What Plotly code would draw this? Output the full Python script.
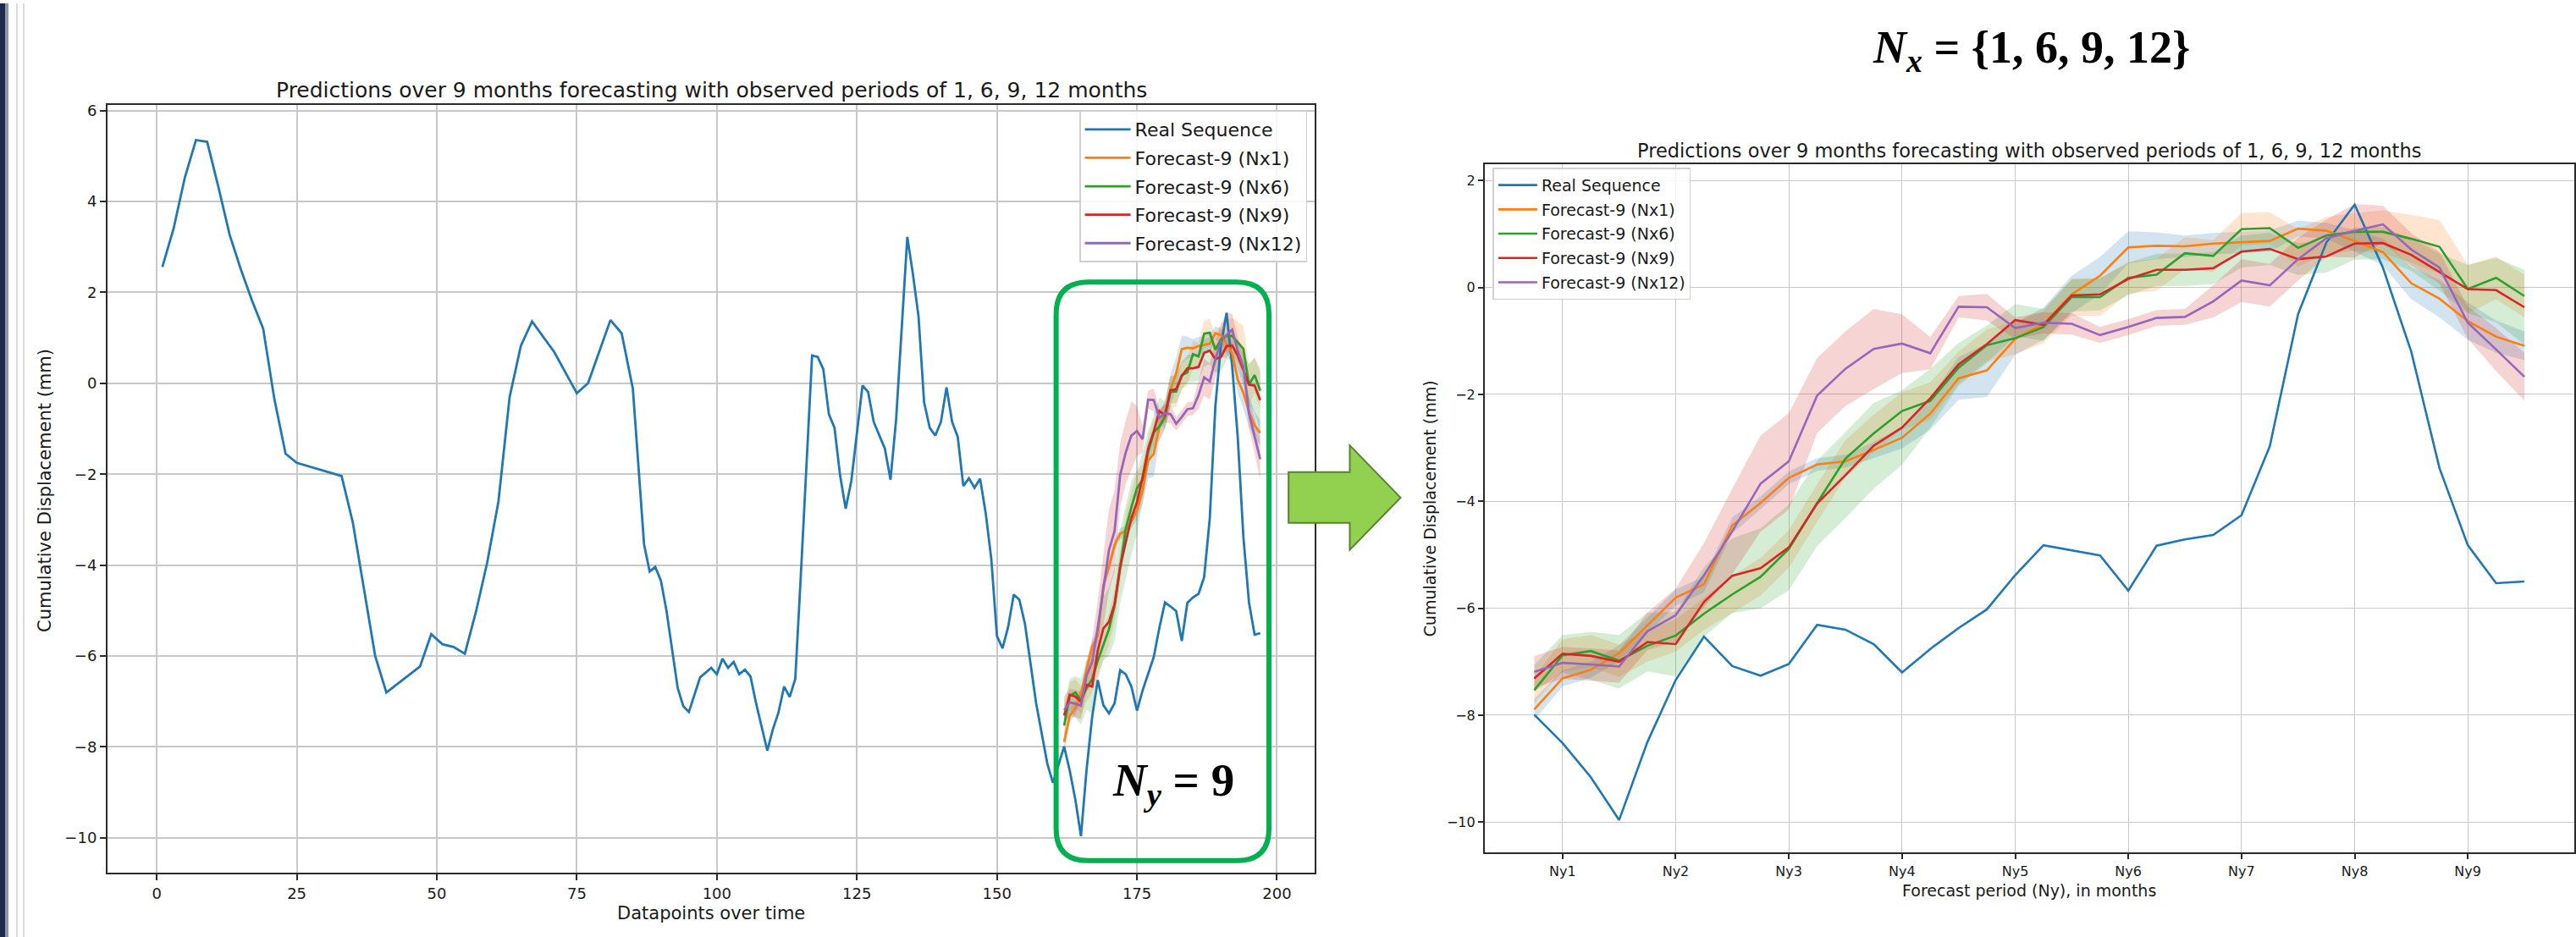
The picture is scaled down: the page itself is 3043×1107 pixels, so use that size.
import plotly.graph_objects as go

W, H = 3043, 1107

# ---------------- data ----------------
# Left chart: real sequence, datapoints 1..160 (vertices)
early_x = [1, 3, 5, 7, 9, 11, 13, 15, 17, 19, 21, 23, 25, 33, 35, 39, 41, 43, 47, 49,
           51, 53, 55, 57, 59, 61, 63, 65, 67, 71, 75, 77, 81, 83, 85, 87, 88, 89, 90, 91,
           93, 94, 95, 97, 99, 100, 101, 102, 103, 104, 105, 106, 107, 109, 110, 111, 112, 113, 114, 115,
           116, 117, 118, 119, 120, 121, 122, 123, 124, 126, 127, 128, 130, 131, 132, 134, 135, 136, 137, 138,
           139, 140, 141, 142, 143, 144, 145, 146, 147, 148, 149, 150, 151, 152, 153, 154, 155, 157, 159, 160]
early_y = [2.56, 3.40, 4.52, 5.35, 5.31, 4.32, 3.27, 2.51, 1.82, 1.20,
           -0.35, -1.55, -1.75, -2.04, -3.06, -6.00, -6.80, -6.61, -6.23, -5.52,
           -5.74, -5.80, -5.95, -5.02, -3.94, -2.60, -0.30, 0.82, 1.36, 0.68,
           -0.22, 0.00, 1.39, 1.10, -0.12, -3.54, -4.14, -4.04, -4.34, -5.00,
           -6.70, -7.10, -7.23, -6.47, -6.26, -6.40, -6.06, -6.26, -6.13, -6.40,
           -6.30, -6.45, -7.04, -8.08, -7.61, -7.24, -6.67, -6.90, -6.50, -4.20,
           -1.80, 0.61, 0.58, 0.31, -0.68, -0.98, -2.03, -2.76, -2.15, -0.05,
           -0.19, -0.85, -1.44, -2.12, -0.80, 3.22, 2.40, 1.47, -0.42, -0.98,
           -1.15, -0.85, -0.09, -0.85, -1.18, -2.26, -2.09, -2.30, -2.10, -2.86,
           -3.87, -5.56, -5.83, -5.36, -4.65, -4.76, -5.29, -7.04, -8.37, -8.79]

# Forecast window: 36 steps (datapoints 162..197 on the left chart)
forecast_start = 162
real_tail = [-7.99, -8.52, -9.16, -9.96, -8.50, -7.34, -6.53, -7.08, -7.26, -7.04,
             -6.31, -6.40, -6.67, -7.20, -6.76, -6.37, -6.02, -5.38, -4.82, -4.91,
             -5.01, -5.67, -4.83, -4.71, -4.63, -4.26, -2.97, -0.50, 0.84, 1.55,
             0.37, -1.20, -3.38, -4.82, -5.53, -5.50]
fc_nx1 = [-7.89, -7.31, -7.15, -6.84, -6.32, -5.80, -5.55, -4.45, -4.03, -3.56,
          -3.31, -3.25, -3.04, -2.81, -2.36, -1.70, -1.55, -0.96, -0.68, -0.13,
          0.22, 0.75, 0.78, 0.77, 0.82, 0.84, 0.87, 1.10, 1.06, 0.87,
          0.66, 0.08, -0.21, -0.63, -0.92, -1.09]
fc_nx6 = [-7.53, -6.88, -6.80, -6.98, -6.70, -6.51, -6.10, -5.74, -5.41, -4.89,
          -4.03, -3.20, -2.73, -2.31, -2.12, -1.50, -1.08, -0.95, -0.74, -0.18,
          -0.18, 0.18, 0.24, 0.64, 0.59, 1.09, 1.11, 0.74, 0.97, 1.04,
          1.04, 0.91, 0.76, -0.03, 0.18, -0.16]
fc_nx9 = [-7.31, -6.85, -6.89, -7.00, -6.63, -6.67, -5.88, -5.39, -5.25, -4.86,
          -4.04, -3.51, -2.96, -2.62, -2.07, -1.44, -1.06, -0.61, -0.70, -0.15,
          -0.13, 0.16, 0.33, 0.33, 0.36, 0.67, 0.72, 0.53, 0.58, 0.82,
          0.83, 0.61, 0.29, -0.03, -0.05, -0.37]
fc_nx12 = [-7.19, -7.02, -7.05, -7.09, -6.43, -6.13, -5.38, -4.56, -3.67, -3.25,
           -2.02, -1.52, -1.15, -1.05, -1.23, -0.36, -0.37, -0.76, -0.66, -0.68,
           -0.89, -0.74, -0.57, -0.55, -0.26, 0.13, 0.04, 0.53, 0.92, 1.06,
           1.18, 0.71, 0.37, -0.66, -1.16, -1.67]
# half-widths of the shaded uncertainty bands
hw_nx1 = [0.20, 0.15, 0.15, 0.15, 0.15, 0.15, 0.15, 0.15, 0.12, 0.12,
          0.12, 0.12, 0.15, 0.20, 0.30, 0.40, 0.50, 0.30, 0.30, 0.35,
          0.35, 0.30, 0.25, 0.20, 0.20, 0.20, 0.20, 0.15, 0.15, 0.20,
          0.25, 0.30, 0.35, 0.35, 0.30, 0.27]
hw_nx6 = [0.25, 0.30, 0.30, 0.30, 0.30, 0.30, 0.30, 0.35, 0.35, 0.35,
          0.35, 0.35, 0.35, 0.35, 0.35, 0.30, 0.30, 0.30, 0.30, 0.35,
          0.35, 0.30, 0.30, 0.30, 0.30, 0.30, 0.30, 0.35, 0.35, 0.35,
          0.40, 0.45, 0.50, 0.45, 0.40, 0.40]
hw_nx9 = [0.25, 0.35, 0.45, 0.50, 0.55, 0.60, 0.65, 0.70, 0.75, 0.80,
          0.80, 0.80, 0.80, 0.70, 0.55, 0.40, 0.35, 0.30, 0.30, 0.30,
          0.30, 0.30, 0.30, 0.30, 0.30, 0.30, 0.30, 0.30, 0.30, 0.30,
          0.30, 0.30, 0.35, 0.45, 0.60, 0.70]
hw_nx12 = [0.30, 0.30, 0.30, 0.30, 0.35, 0.50, 0.60, 0.80, 0.90, 0.90,
           0.70, 0.70, 0.75, 0.55, 0.30, 0.20, 0.25, 0.20, 0.20, 0.20,
           0.15, 0.15, 0.15, 0.15, 0.30, 0.40, 0.40, 0.40, 0.35, 0.50,
           0.35, 0.30, 0.30, 0.30, 0.40, 0.45]

series_names = ["Forecast-9 (Nx1)", "Forecast-9 (Nx6)", "Forecast-9 (Nx9)", "Forecast-9 (Nx12)"]
ny_ticks = [1, 5, 9, 13, 17, 21, 25, 29, 33]
ny_labels = ["Ny1", "Ny2", "Ny3", "Ny4", "Ny5", "Ny6", "Ny7", "Ny8", "Ny9"]
left_xticks = [0, 25, 50, 75, 100, 125, 150, 175, 200]
left_yticks = [-10, -8, -6, -4, -2, 0, 2, 4, 6]
right_yticks = [-10, -8, -6, -4, -2, 0, 2]

TITLE = "Predictions over 9 months forecasting with observed periods of 1, 6, 9, 12 months"

# ---------------- styling ----------------
C_BLUE, C_ORANGE, C_GREEN, C_RED, C_PURPLE = "#1f77b4", "#ff7f0e", "#2ca02c", "#d62728", "#9467bd"
line_colors = [C_ORANGE, C_GREEN, C_RED, C_PURPLE]
band_colors = ["rgba(31,119,180,0.2)", "rgba(255,127,14,0.2)", "rgba(44,160,44,0.2)", "rgba(214,39,40,0.2)"]
FONT = "DejaVu Sans"
TXT = "#1a1a1a"

forecasts = [fc_nx1, fc_nx6, fc_nx9, fc_nx12]
halfw = [hw_nx1, hw_nx6, hw_nx9, hw_nx12]

fig = go.Figure()


def add_chart(xs_f, xs_real, ys_real, xa, ya, legend, lw, tag):
    # bands first (under lines)
    for k in range(4):
        up = [c + h for c, h in zip(forecasts[k], halfw[k])]
        lo = [c - h for c, h in zip(forecasts[k], halfw[k])]
        fig.add_trace(go.Scatter(x=list(xs_f) + list(xs_f)[::-1], y=up + lo[::-1],
                                 fill="toself", fillcolor=band_colors[k], line=dict(width=0),
                                 mode="lines", hoverinfo="skip", showlegend=False,
                                 xaxis=xa, yaxis=ya))
    fig.add_trace(go.Scatter(x=xs_real, y=ys_real, mode="lines", name="Real Sequence",
                             line=dict(color=C_BLUE, width=lw), xaxis=xa, yaxis=ya,
                             legend=legend, legendgroup=tag + "0"))
    for k in range(4):
        fig.add_trace(go.Scatter(x=list(xs_f), y=forecasts[k], mode="lines", name=series_names[k],
                                 line=dict(color=line_colors[k], width=lw), xaxis=xa, yaxis=ya,
                                 legend=legend, legendgroup=tag + str(k + 1)))


n = len(real_tail)
left_fx = [forecast_start + i for i in range(n)]
add_chart(left_fx, early_x + left_fx, early_y + real_tail, "x", "y", "legend", 2.8, "L")
right_fx = list(range(n))
add_chart(right_fx, right_fx, real_tail, "x2", "y2", "legend2", 2.6, "R")


def px_x(v):
    return v / W


def px_y(v):
    return 1 - v / H


axis_common = dict(showgrid=True, gridcolor="#c8c8c8", zeroline=False, showline=True, mirror=True,
                   linecolor="#2b2b2b", ticks="outside", tickcolor="#2b2b2b", tickwidth=1.5)

fig.update_layout(
    width=W, height=H, margin=dict(l=0, r=0, t=0, b=0),
    paper_bgcolor="white", plot_bgcolor="white",
    font=dict(family=FONT, color=TXT),
    xaxis=dict(domain=[px_x(127), px_x(1554)], range=[-8.8, 206.8], tickvals=left_xticks,
               anchor="y", linewidth=2, gridwidth=1.5, ticklen=7,
               tickfont=dict(size=18, family=FONT, color=TXT), **axis_common),
    yaxis=dict(domain=[px_y(1031), px_y(120)], range=[-10.77, 6.13], tickvals=left_yticks,
               anchor="x", linewidth=2, gridwidth=1.5, ticklen=7,
               tickfont=dict(size=18, family=FONT, color=TXT), **axis_common),
    xaxis2=dict(domain=[px_x(1754.5), px_x(3041.5)], range=[-1.75, 36.75], tickvals=ny_ticks,
                ticktext=ny_labels, anchor="y2", linewidth=2, gridwidth=1.3, ticklen=6,
                tickfont=dict(size=16, family=FONT, color=TXT), **axis_common),
    yaxis2=dict(domain=[px_y(1007), px_y(191)], range=[-10.57, 2.30], tickvals=right_yticks,
                anchor="x2", linewidth=2, gridwidth=1.3, ticklen=6,
                tickfont=dict(size=16, family=FONT, color=TXT), **axis_common),
    legend=dict(x=px_x(1275.5), y=px_y(127), xanchor="left", yanchor="top",
                bgcolor="rgba(255,255,255,0.85)", bordercolor="#d0d0d0", borderwidth=1.5,
                font=dict(size=22, family=FONT, color=TXT), itemwidth=54, tracegroupgap=2),
    legend2=dict(x=px_x(1764), y=px_y(195), xanchor="left", yanchor="top",
                 bgcolor="rgba(255,255,255,0.85)", bordercolor="#d0d0d0", borderwidth=1.5,
                 font=dict(size=19, family=FONT, color=TXT), itemwidth=46, tracegroupgap=1),
    showlegend=True,
)

ann = []
ann.append(dict(text=TITLE, x=px_x(840.5), y=px_y(103), font=dict(size=25)))
ann.append(dict(text=TITLE, x=px_x(2398), y=px_y(175), font=dict(size=22.5)))
ann.append(dict(text="Datapoints over time", x=px_x(840.5), y=px_y(1079), font=dict(size=21)))
ann.append(dict(text="Forecast period (Ny), in months", x=px_x(2398), y=px_y(1052), font=dict(size=19)))
ann.append(dict(text="Cumulative Displacement (mm)", x=px_x(53), y=px_y(577), textangle=-90, font=dict(size=21)))
ann.append(dict(text="Cumulative Displacement (mm)", x=px_x(1689), y=px_y(599), textangle=-90, font=dict(size=19)))
ann.append(dict(text="<b><i>N</i><sub><i>x</i></sub>&#8197;=&#8197;{1, 6, 9, 12}</b>", x=px_x(2400), y=px_y(56),
                font=dict(size=54, family="Liberation Serif", color="black")))
ann.append(dict(text="<b><i>N</i><sub><i>y</i></sub>&#8197;=&#8197;9</b>", x=px_x(1386), y=px_y(925),
                font=dict(size=55, family="Liberation Serif", color="black")))
for a in ann:
    a.update(xref="paper", yref="paper", showarrow=False, xanchor="center", yanchor="middle")
    a.setdefault("font", {})
    a["font"].setdefault("family", FONT)
    a["font"].setdefault("color", TXT)
fig.update_layout(annotations=ann)


def P(x, y):
    return f"{px_x(x):.6f},{px_y(y):.6f}"


# rounded green box around the forecast window (left chart)
L, R, T, B, r = 1248, 1499.5, 330.5, 1016.5, 38
box = (f"M{P(L + r, T)} L{P(R - r, T)} Q{P(R, T)} {P(R, T + r)} L{P(R, B - r)} Q{P(R, B)} {P(R - r, B)} "
       f"L{P(L + r, B)} Q{P(L, B)} {P(L, B - r)} L{P(L, T + r)} Q{P(L, T)} {P(L + r, T)} Z")
# block arrow between the charts
arrow = (f"M{P(1522.7, 555.7)} L{P(1595, 555.7)} L{P(1595, 524)} L{P(1655, 586)} "
         f"L{P(1595, 648)} L{P(1595, 616)} L{P(1522.7, 616)} Z")

shapes = [
    dict(type="rect", xref="paper", yref="paper", x0=0, x1=px_x(6), y0=0, y1=1,
         fillcolor="#1c2b4a", line=dict(width=0), layer="above"),
    dict(type="rect", xref="paper", yref="paper", x0=px_x(6), x1=px_x(10), y0=0, y1=1,
         fillcolor="#8c97a8", line=dict(width=0), layer="above"),
    dict(type="line", xref="paper", yref="paper", x0=px_x(20), x1=px_x(20), y0=0, y1=1,
         line=dict(color="#cfcfcf", width=1.5), layer="above"),
    dict(type="line", xref="paper", yref="paper", x0=px_x(28), x1=px_x(28), y0=0, y1=1,
         line=dict(color="#cfcfcf", width=1.5), layer="above"),
    dict(type="path", xref="paper", yref="paper", path=box, line=dict(color="#00b050", width=6),
         fillcolor="rgba(0,0,0,0)", layer="above"),
    dict(type="path", xref="paper", yref="paper", path=arrow, line=dict(color="#55832e", width=2),
         fillcolor="#92d050", layer="above"),
]
fig.update_layout(shapes=shapes)

fig.write_html("out.html")
